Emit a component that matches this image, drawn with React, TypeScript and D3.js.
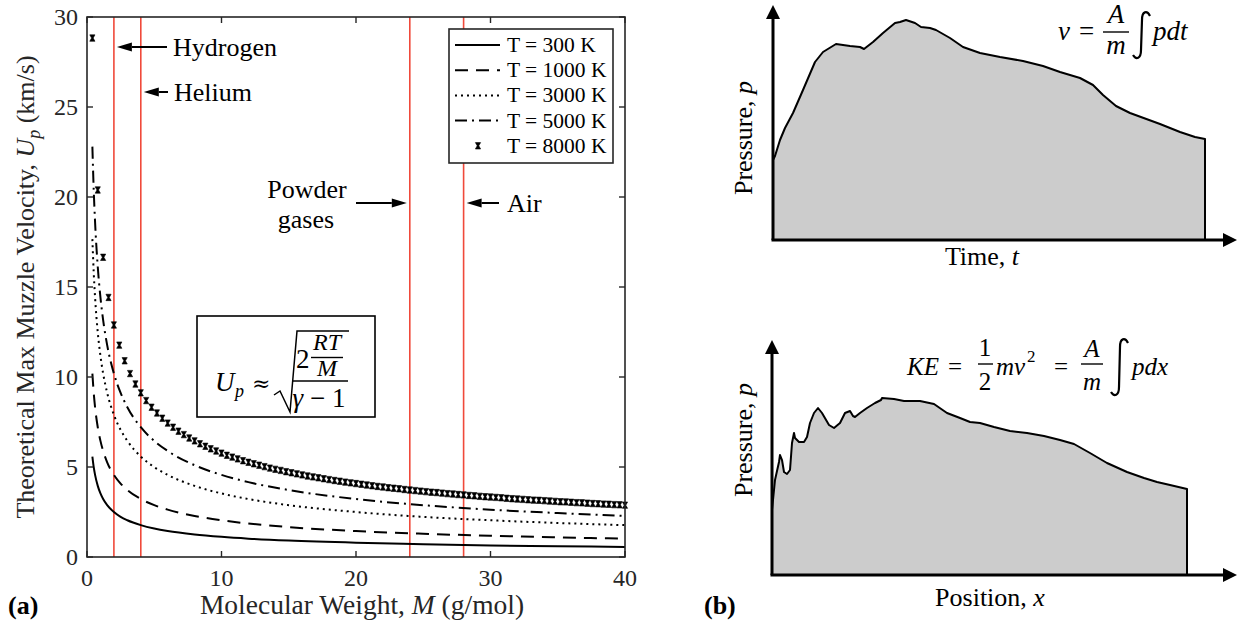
import React from 'react';
import * as d3 from 'd3';

const W = 1238;
const H = 625;
const serif = '"Liberation Serif", "Times New Roman", serif';

// (a) molecular weight grid for the line series, g/mol
const molWeights = [0.4, 0.5, 0.6, 0.8, 1, 1.2, 1.5, 2, 2.5, 3, 4, 5, 6, 8, 10, 12, 15, 20, 25, 30, 35, 40];
// muzzle velocity, km/s
const up300 = [5.58, 4.99, 4.56, 3.95, 3.53, 3.22, 2.88, 2.5, 2.23, 2.04, 1.77, 1.58, 1.44, 1.25, 1.12, 1.02, 0.91, 0.79, 0.71, 0.64, 0.6, 0.56];
const up1000 = [10.19, 9.12, 8.32, 7.21, 6.45, 5.89, 5.26, 4.56, 4.08, 3.72, 3.22, 2.88, 2.63, 2.28, 2.04, 1.86, 1.66, 1.44, 1.29, 1.18, 1.09, 1.02];
const up3000 = [17.66, 15.79, 14.42, 12.48, 11.17, 10.19, 9.12, 7.9, 7.06, 6.45, 5.58, 4.99, 4.56, 3.95, 3.53, 3.22, 2.88, 2.5, 2.23, 2.04, 1.89, 1.77];
const up5000 = [22.8, 20.39, 18.61, 16.12, 14.42, 13.16, 11.77, 10.19, 9.12, 8.32, 7.21, 6.45, 5.89, 5.1, 4.56, 4.16, 3.72, 3.22, 2.88, 2.63, 2.44, 2.28];

// 8000 K is drawn with markers only
const molWeights8000 = [
  0.4, 0.8, 1.2, 1.6, 2, 2.4, 2.8, 3.2, 3.6, 4, 4.4, 4.8, 5.2, 5.6, 6, 6.4, 6.8, 7.2, 7.6, 8,
  8.4, 8.8, 9.2, 9.6, 10, 10.4, 10.8, 11.2, 11.6, 12, 12.4, 12.8, 13.2, 13.6, 14, 14.4, 14.8, 15.2, 15.6, 16,
  16.4, 16.8, 17.2, 17.6, 18, 18.4, 18.8, 19.2, 19.6, 20, 20.4, 20.8, 21.2, 21.6, 22, 22.4, 22.8, 23.2, 23.6, 24,
  24.4, 24.8, 25.2, 25.6, 26, 26.4, 26.8, 27.2, 27.6, 28, 28.4, 28.8, 29.2, 29.6, 30, 30.4, 30.8, 31.2, 31.6, 32,
  32.4, 32.8, 33.2, 33.6, 34, 34.4, 34.8, 35.2, 35.6, 36, 36.4, 36.8, 37.2, 37.6, 38, 38.4, 38.8, 39.2, 39.6, 40,
];
const up8000 = [
  28.83, 20.39, 16.65, 14.42, 12.89, 11.77, 10.9, 10.19, 9.61, 9.12, 8.69, 8.32, 8.0, 7.71, 7.44, 7.21, 6.99, 6.8, 6.61, 6.45,
  6.29, 6.15, 6.01, 5.89, 5.77, 5.65, 5.55, 5.45, 5.35, 5.26, 5.18, 5.1, 5.02, 4.94, 4.87, 4.81, 4.74, 4.68, 4.62, 4.56,
  4.5, 4.45, 4.4, 4.35, 4.3, 4.25, 4.21, 4.16, 4.12, 4.08, 4.04, 4.0, 3.96, 3.92, 3.89, 3.85, 3.82, 3.79, 3.75, 3.72,
  3.69, 3.66, 3.63, 3.6, 3.58, 3.55, 3.52, 3.5, 3.47, 3.45, 3.42, 3.4, 3.37, 3.35, 3.33, 3.31, 3.29, 3.26, 3.24, 3.22,
  3.2, 3.18, 3.16, 3.15, 3.13, 3.11, 3.09, 3.07, 3.06, 3.04, 3.02, 3.01, 2.99, 2.97, 2.96, 2.94, 2.93, 2.91, 2.9, 2.88,
];

const seriesLabels = ['T = 300 K', 'T = 1000 K', 'T = 3000 K', 'T = 5000 K', 'T = 8000 K'];
const seriesDash = ['none', '13,8', '2,4', '12,5,2,5'];

const gasNames = ['Hydrogen', 'Helium', 'Powder gases', 'Air'];
const gasWeights = [2, 4, 24, 28];

const xTicks = [0, 10, 20, 30, 40];
const yTicks = [0, 5, 10, 15, 20, 25, 30];

// (b) schematic pressure traces, in arbitrary units
const tTime = [0, 0, 2, 7, 12, 20, 30, 42, 50, 63, 77, 87, 91, 100, 110, 122, 127, 133, 142, 148, 157, 163, 177, 190, 207, 227, 250, 270, 287, 307, 320, 330, 343, 357, 387, 407, 422, 432, 432];
const pTime = [0, 80, 84, 100, 112, 127, 150, 178, 188, 196, 194, 193, 191, 198, 207, 217, 218, 220, 217, 213, 212, 210, 202, 193, 187, 183, 179, 174, 168, 162, 155, 145, 134, 127, 116, 108, 103, 101, 0];

const xPos = [0, 0, 3, 7, 8, 10, 12, 15, 18, 20, 22, 23, 27, 32, 35, 38, 42, 46, 50, 57, 62, 68, 73, 78, 81, 83, 88, 95, 103, 109, 110, 122, 132, 148, 162, 175, 188, 198, 208, 222, 238, 255, 272, 288, 302, 318, 335, 355, 372, 385, 398, 415, 415];
const pPos = [0, 65, 95, 113, 120, 115, 103, 101, 105, 132, 142, 137, 133, 133, 138, 152, 162, 167, 162, 150, 147, 152, 162, 164, 159, 158, 162, 167, 172, 175, 177, 176, 174, 174, 171, 162, 157, 153, 152, 148, 144, 142, 139, 135, 131, 122, 112, 103, 97, 93, 90, 86, 0];

function Arrow({ x1, y1, x2, y2, head = 15, half = 4.5, width = 2 }) {
  // arrow pointing from (x1,y1) to (x2,y2)
  const a = Math.atan2(y2 - y1, x2 - x1);
  const bx = x2 - head * Math.cos(a);
  const by = y2 - head * Math.sin(a);
  const nx = -Math.sin(a) * half;
  const ny = Math.cos(a) * half;
  return (
    <g>
      <line x1={x1} y1={y1} x2={bx} y2={by} stroke="#000" strokeWidth={width} />
      <path d={`M${x2},${y2}L${bx + nx},${by + ny}L${bx - nx},${by - ny}Z`} fill="#000" />
    </g>
  );
}

// small hourglass marker used for the 8000 K series
const marker = 'M-2.6,-3.2L2.6,-3.2L0.8,0L2.6,3.2L-2.6,3.2L-0.8,0Z';

function PanelA() {
  const x = d3.scaleLinear([0, 40], [87, 625]);
  const y = d3.scaleLinear([0, 30], [557, 17]);
  const line = d3
    .line<number>()
    .x((d, i) => x(molWeights[i]))
    .y((d) => y(d))
    .curve(d3.curveMonotoneX);
  const lines = [up300, up1000, up3000, up5000];
  const tick = 6;

  const legX = 449;
  const legY = 29;
  const rowY = (i) => legY + 16 + i * 25.2;

  return (
    <g fontFamily={serif}>
      {gasWeights.map((m) => (
        <line key={m} x1={x(m)} x2={x(m)} y1={y(30)} y2={y(0)} stroke="#f0493a" strokeWidth={1.6} />
      ))}

      {lines.map((vals, i) => (
        <path
          key={i}
          d={line(vals)}
          fill="none"
          stroke="#000"
          strokeWidth={2}
          strokeDasharray={seriesDash[i]}
        />
      ))}
      <g fill="#000" stroke="#000" strokeWidth={0.6}>
        {up8000.map((v, i) => (
          <path key={i} d={marker} transform={`translate(${x(molWeights8000[i])},${y(v)})`} />
        ))}
      </g>

      {/* axes box */}
      <rect x={x(0)} y={y(30)} width={x(40) - x(0)} height={y(0) - y(30)} fill="none" stroke="#262626" strokeWidth={1.6} />
      <g stroke="#262626" strokeWidth={1.4}>
        {xTicks.map((t) => (
          <g key={t}>
            <line x1={x(t)} x2={x(t)} y1={y(0)} y2={y(0) - tick} />
            <line x1={x(t)} x2={x(t)} y1={y(30)} y2={y(30) + tick} />
          </g>
        ))}
        {yTicks.map((t) => (
          <g key={t}>
            <line x1={x(0)} x2={x(0) + tick} y1={y(t)} y2={y(t)} />
            <line x1={x(40)} x2={x(40) - tick} y1={y(t)} y2={y(t)} />
          </g>
        ))}
      </g>
      <g fontSize={24} fill="#262626">
        {xTicks.map((t) => (
          <text key={t} x={x(t)} y={y(0) + 29} textAnchor="middle">
            {t}
          </text>
        ))}
        {yTicks.map((t) => (
          <text key={t} x={x(0) - 9} y={y(t) + 8} textAnchor="end">
            {t}
          </text>
        ))}
      </g>

      <text x={362} y={614} fontSize={27.5} textAnchor="middle" fill="#262626">
        Molecular Weight, <tspan fontStyle="italic">M</tspan> (g/mol)
      </text>
      <text transform={`translate(34,${(y(0) + y(30)) / 2}) rotate(-90)`} fontSize={26} textAnchor="middle" fill="#262626">
        Theoretical Max Muzzle Velocity, <tspan fontStyle="italic">U</tspan>
        <tspan fontStyle="italic" fontSize={18} dy={6}>p</tspan>
        <tspan dy={-6}> (km/s)</tspan>
      </text>

      {/* legend */}
      <rect x={legX} y={legY} width={164} height={134} fill="#fff" stroke="#262626" strokeWidth={1.6} />
      {seriesLabels.map((s, i) => (
        <g key={s}>
          {i < 4 ? (
            <line x1={455} x2={500} y1={rowY(i)} y2={rowY(i)} stroke="#000" strokeWidth={2} strokeDasharray={seriesDash[i]} />
          ) : (
            <path d={marker} transform={`translate(478,${rowY(i)})`} fill="#000" stroke="#000" strokeWidth={0.6} />
          )}
          <text x={507} y={rowY(i) + 7} fontSize={21.5} fill="#000">
            {s}
          </text>
        </g>
      ))}

      {/* gas annotations */}
      <g fontSize={26} fill="#000">
        <text x={173} y={56}>{gasNames[0]}</text>
        <Arrow x1={167} y1={47} x2={x(gasWeights[0]) + 3} y2={47} />
        <text x={174} y={101}>{gasNames[1]}</text>
        <Arrow x1={168} y1={92} x2={x(gasWeights[1]) + 3} y2={92} />
        <text x={307} y={198} textAnchor="middle">{gasNames[2].split(' ')[0]}</text>
        <text x={306} y={228} textAnchor="middle">{gasNames[2].split(' ')[1]}</text>
        <Arrow x1={356} y1={203} x2={x(gasWeights[2]) - 3} y2={203} />
        <text x={507} y={212}>{gasNames[3]}</text>
        <Arrow x1={499} y1={203} x2={x(gasWeights[3]) + 3} y2={203} />
      </g>

      {/* formula box */}
      <rect x={197} y={316} width={178} height={101} fill="#fff" stroke="#000" strokeWidth={1.6} />
      <g fill="#000" fontSize={27}>
        <text x={215} y={391} fontStyle="italic">U</text>
        <text x={235} y={397} fontStyle="italic" fontSize={18}>p</text>
        <text x={252} y={391} fontFamily='"DejaVu Serif", serif' fontSize={22}>≈</text>
        <path d="M274,395L280,391L290,412L297,331L349,331" fill="none" stroke="#000" strokeWidth={1.5} />
        <text x={296} y={368}>2</text>
        <text x={327} y={350} fontStyle="italic" fontSize={24} textAnchor="middle">RT</text>
        <line x1={311} x2={343} y1={357.5} y2={357.5} stroke="#000" strokeWidth={1.4} />
        <text x={327} y={376} fontStyle="italic" fontSize={24} textAnchor="middle">M</text>
        <line x1={292} x2={348} y1={381} y2={381} stroke="#000" strokeWidth={1.4} />
        <text x={319} y={407} textAnchor="middle">
          <tspan fontStyle="italic">γ</tspan> − 1
        </text>
      </g>

      <text x={8} y={614} fontSize={26} fontWeight="bold" fill="#000">(a)</text>
    </g>
  );
}

function Axes({ x0, y0, xEnd, yTop }) {
  return (
    <g>
      <line x1={x0} y1={y0} x2={x0} y2={yTop + 12} stroke="#000" strokeWidth={3} />
      <path d={`M${x0},${yTop}L${x0 - 7},${yTop + 14}L${x0 + 7},${yTop + 14}Z`} fill="#000" />
      <line x1={x0 - 1.5} y1={y0} x2={xEnd - 12} y2={y0} stroke="#000" strokeWidth={3} />
      <path d={`M${xEnd},${y0}L${xEnd - 14},${y0 - 7}L${xEnd - 14},${y0 + 7}Z`} fill="#000" />
    </g>
  );
}

function PanelB() {
  const xt = d3.scaleLinear([0, 464], [773, 1237]);
  const yt = d3.scaleLinear([0, 235], [240, 5]);
  const xp = d3.scaleLinear([0, 465], [772, 1237]);
  const yp = d3.scaleLinear([0, 235], [575, 340]);

  const shapeTime = d3
    .line<number>()
    .x((d, i) => xt(tTime[i]))
    .y((d) => yt(d));
  const shapePos = d3
    .line<number>()
    .x((d, i) => xp(xPos[i]))
    .y((d) => yp(d));

  return (
    <g fontFamily={serif} fill="#000">
      <path d={shapeTime(pTime) + 'Z'} fill="#cccccc" stroke="#000" strokeWidth={2} strokeLinejoin="round" />
      <Axes x0={xt(0)} y0={yt(0)} xEnd={xt(464)} yTop={yt(235)} />
      <text x={982} y={265} fontSize={26} textAnchor="middle">
        Time, <tspan fontStyle="italic">t</tspan>
      </text>
      <text transform="translate(752,138) rotate(-90)" fontSize={26} textAnchor="middle">
        Pressure, <tspan fontStyle="italic">p</tspan>
      </text>

      {/* v = A/m ∫ p dt */}
      <g fontSize={27}>
        <text x={1058} y={40} fontStyle="italic">v</text>
        <text x={1079} y={40}>=</text>
        <text x={1116} y={23} fontStyle="italic" textAnchor="middle">A</text>
        <line x1={1103} x2={1129} y1={32} y2={32} stroke="#000" strokeWidth={1.4} />
        <text x={1116} y={54} fontStyle="italic" textAnchor="middle">m</text>
        <path d="M1150,16C1147,10,1142,11,1142,20L1141,50C1141,59,1136,60,1133,55" fill="none" stroke="#000" strokeWidth={2.2} />
        <text x={1153} y={40} fontStyle="italic">pdt</text>
      </g>

      <path d={shapePos(pPos) + 'Z'} fill="#cccccc" stroke="#000" strokeWidth={2} strokeLinejoin="round" />
      <Axes x0={xp(0)} y0={yp(0)} xEnd={xp(465)} yTop={yp(235)} />
      <text x={990} y={606} fontSize={26} textAnchor="middle">
        Position, <tspan fontStyle="italic">x</tspan>
      </text>
      <text transform="translate(752,440) rotate(-90)" fontSize={26} textAnchor="middle">
        Pressure, <tspan fontStyle="italic">p</tspan>
      </text>

      {/* KE = 1/2 m v^2 = A/m ∫ p dx */}
      <g fontSize={25}>
        <text x={907} y={375} fontStyle="italic">KE</text>
        <text x={948} y={375}>=</text>
        <text x={985} y={356} textAnchor="middle">1</text>
        <line x1={978} x2={993} y1={364} y2={364} stroke="#000" strokeWidth={1.4} />
        <text x={985} y={390} textAnchor="middle">2</text>
        <text x={996} y={375} fontStyle="italic">mv</text>
        <text x={1027} y={362} fontSize={17}>2</text>
        <text x={1054} y={375}>=</text>
        <text x={1092} y={357} fontStyle="italic" textAnchor="middle">A</text>
        <line x1={1081} x2={1103} y1={364} y2={364} stroke="#000" strokeWidth={1.4} />
        <text x={1092} y={390} fontStyle="italic" textAnchor="middle">m</text>
        <path d="M1128,343C1125,337,1120,338,1120,347L1119,387C1119,396,1114,397,1111,392" fill="none" stroke="#000" strokeWidth={2.2} />
        <text x={1132} y={375} fontStyle="italic">pdx</text>
      </g>

      <text x={704} y={614} fontSize={26} fontWeight="bold">(b)</text>
    </g>
  );
}

export default function App() {
  return (
    <svg
      width={W}
      height={H}
      viewBox={`0 0 ${W} ${H}`}
      style={{ position: 'absolute', left: 0, top: 0, background: '#fff' }}
    >
      <rect width={W} height={H} fill="#fff" />
      <PanelA />
      <PanelB />
    </svg>
  );
}
